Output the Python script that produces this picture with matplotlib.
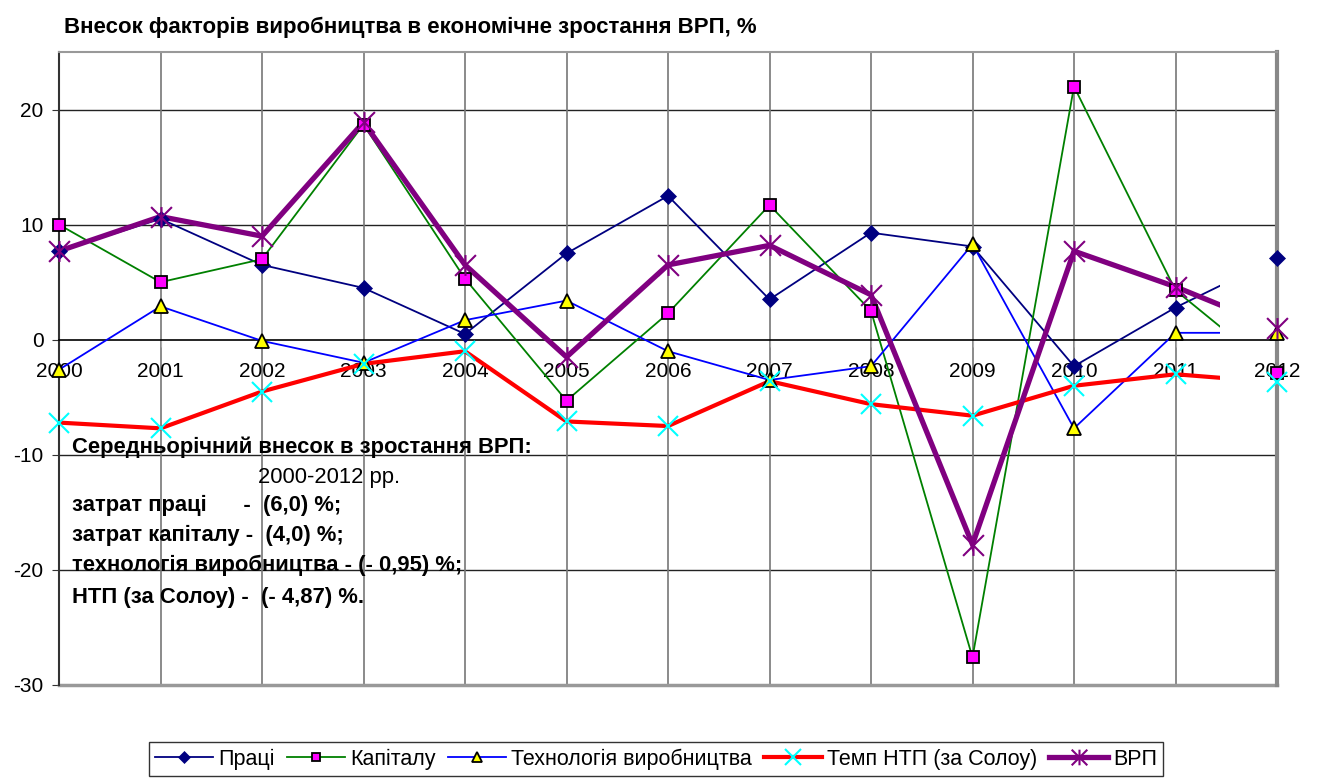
import numpy as np
import matplotlib.pyplot as plt
from matplotlib.lines import Line2D
from matplotlib.patches import Rectangle
from matplotlib.path import Path

plt.rcParams['font.family'] = ['Liberation Sans', 'DejaVu Sans']
plt.rcParams['axes.unicode_minus'] = False

years = list(range(2000, 2013))

pratsi = [7.7, 10.5, 6.5, 4.5, 0.5, 7.5, 12.5, 3.5, 9.3, 8.1, -2.3, 2.8, 7.1]
kapital = [10.0, 5.0, 7.0, 18.7, 5.3, -5.3, 2.3, 11.7, 2.5, -27.6, 22.0, 4.3, -2.9]
tekhn = [-2.6, 2.9, -0.1, -2.0, 1.7, 3.4, -1.0, -3.5, -2.3, 8.3, -7.7, 0.6, 0.6]
ntp = [-7.2, -7.7, -4.5, -2.1, -1.0, -7.1, -7.5, -3.6, -5.6, -6.6, -4.0, -3.0, -3.7]
vrp = [7.7, 10.7, 9.0, 18.9, 6.5, -1.5, 6.5, 8.2, 3.9, -17.8, 7.7, 4.6, 1.0]

labels = ["Праці", "Капіталу", "Технологія виробництва", "Темп НТП (за Солоу)", "ВРП"]

# Excel-style star: X plus a vertical bar
star = Path([(-1, -1), (1, 1), (-1, 1), (1, -1), (0, -1), (0, 1)],
            [Path.MOVETO, Path.LINETO, Path.MOVETO, Path.LINETO, Path.MOVETO, Path.LINETO])

styles = [
    dict(color="#000080", lw=1.3, marker="D", ms=8.5, mfc="#000080", mec="#000080", mew=0.5),
    dict(color="#008000", lw=1.3, marker="s", ms=8.5, mfc="#FF00FF", mec="black", mew=1.3),
    dict(color="#0000FF", lw=1.3, marker="^", ms=10, mfc="#FFFF00", mec="black", mew=1.3),
    dict(color="#FF0000", lw=3.0, marker="x", ms=15, mfc="#00FFFF", mec="#00FFFF", mew=1.5),
    dict(color="#800080", lw=3.8, marker=star, ms=15, mfc="#800080", mec="#800080", mew=1.5),
]
series = [pratsi, kapital, tekhn, ntp, vrp]

fig = plt.figure(figsize=(13.17, 7.82), dpi=100)
ax = fig.add_axes([59 / 1317, 1 - 685 / 782, (1277 - 59) / 1317, (685 - 52) / 782])

ax.set_xlim(2000, 2012)
ax.set_ylim(-30, 25)

# grid
for y in [-20, -10, 10, 20]:
    ax.axhline(y, color="#222222", lw=1.0, zorder=1)
for x in years[1:-1]:
    ax.axvline(x, color="#777777", lw=1.2, zorder=1)

# lines stop just past 2011, like in the original picture
clip = Rectangle((2000, -30), 11.44, 55, transform=ax.transData)
handles = []
for vals, st, lab in zip(series, styles, labels):
    ln, = ax.plot(years, vals, color=st["color"], lw=st["lw"], zorder=3,
                  solid_joinstyle="miter")
    ln.set_clip_path(clip)
    ax.plot(years, vals, ls="none", marker=st["marker"], ms=st["ms"], mfc=st["mfc"],
            mec=st["mec"], mew=st["mew"], zorder=4, clip_on=False)
    handles.append(Line2D([], [], color=st["color"], lw=st["lw"], marker=st["marker"],
                          ms=st["ms"] * 0.75, mfc=st["mfc"], mec=st["mec"], mew=st["mew"]))

# axes frame
ax.spines["bottom"].set_position(("data", 0))
ax.spines["bottom"].set_color("black")
ax.spines["bottom"].set_linewidth(1.2)
ax.spines["left"].set_color("#333333")
ax.spines["left"].set_linewidth(1.5)
ax.spines["top"].set_color("#999999")
ax.spines["top"].set_linewidth(1.5)
ax.spines["right"].set_color("#888888")
ax.spines["right"].set_linewidth(3)
ax.axhline(-30, color="#999999", lw=2.5, clip_on=False, zorder=2)

ax.set_xticks(years)
ax.set_xticklabels([str(y) for y in years])
ax.set_yticks([-30, -20, -10, 0, 10, 20])
ax.tick_params(axis="x", length=5, color="#aaaaaa", pad=11, labelsize=15)
ax.tick_params(axis="y", length=5, color="#333333", pad=6, labelsize=15)

# title
fig.text(64 / 1317, 1 - 27 / 782, "Внесок факторів виробництва в економічне зростання ВРП, %",
         fontsize=16, fontweight="bold", va="center", ha="left")

# annotation block
note = [
    (72, 447, "Середньорічний внесок в зростання ВРП:", "bold"),
    (258, 477, "2000-2012 рр.", "normal"),
    (72, 505, "затрат праці      -  (6,0) %;", "bold"),
    (72, 535, "затрат капіталу -  (4,0) %;", "bold"),
    (72, 565, "технологія виробництва - (- 0,95) %;", "bold"),
    (72, 597, "НТП (за Солоу) -  (- 4,87) %.", "bold"),
]
for x, y, s, w in note:
    fig.text(x / 1317, 1 - y / 782, s, fontsize=15.8, fontweight=w, va="center", ha="left",
             zorder=5)

leg = fig.legend(handles, labels, loc="center", bbox_to_anchor=(656 / 1317, 1 - 759 / 782),
                 ncol=5, frameon=True, fancybox=False, edgecolor="black", fontsize=15.5,
                 handlelength=2.7, handletextpad=0.25, columnspacing=0.55, borderpad=0.3)
leg.get_frame().set_linewidth(1.0)

fig.savefig("out.png", dpi=100)
